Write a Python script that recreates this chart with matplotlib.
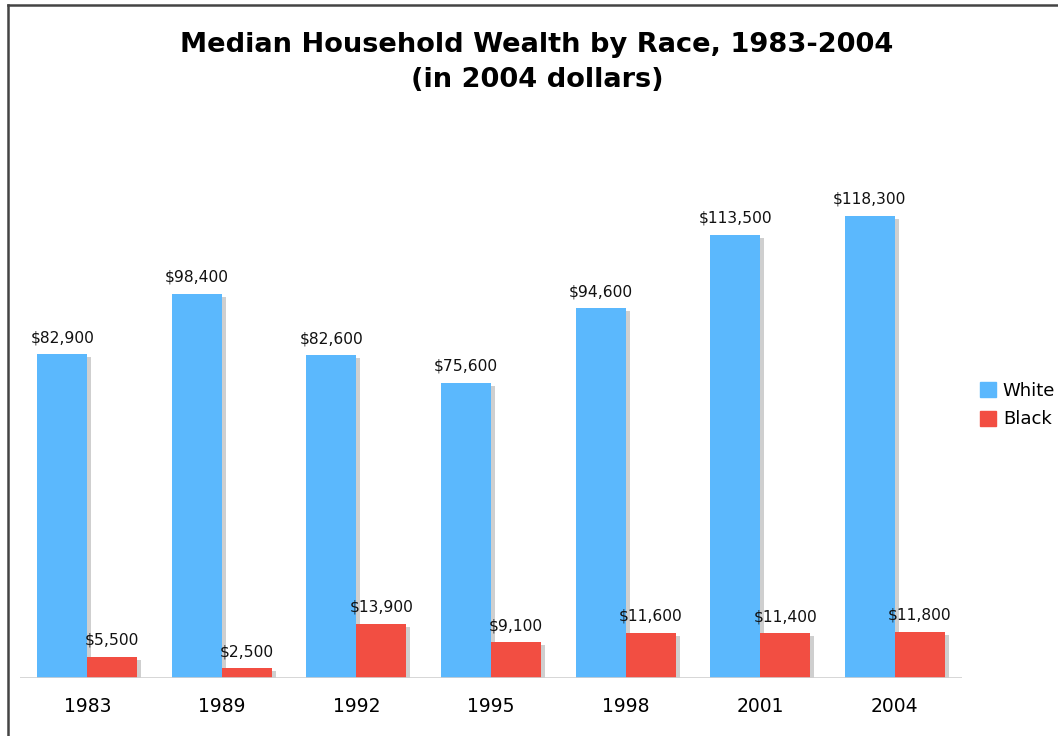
import numpy as np
import matplotlib
matplotlib.use("Agg")
import matplotlib.pyplot as plt
from matplotlib.lines import Line2D
from matplotlib.patches import Patch

plt.rcParams["font.family"] = ["DejaVu Sans"]

years = ["1983", "1989", "1992", "1995", "1998", "2001", "2004"]
white = [82900, 98400, 82600, 75600, 94600, 113500, 118300]
black = [5500, 2500, 13900, 9100, 11600, 11400, 11800]

c_white = "#5bb8fd"
c_black = "#f24e42"
c_shadow = "#cfcfcf"

W, H = 1058, 736
fig = plt.figure(figsize=(W / 100, H / 100), dpi=100)
ax = fig.add_axes([20 / W, 58 / H, 942 / W, (678 - 131) / H])

x = np.arange(len(years))
bw = 0.372
px = 1.0 / 134.6          # one pixel in x data units
ymax = 140000
py = ymax / (678 - 131)   # one pixel in y data units

for off, vals, col in [(-bw / 2, white, c_white), (bw / 2, black, c_black)]:
    # drop shadow on the right
    ax.bar(x + off + 4 * px, [v - 3 * py for v in vals], bw, color=c_shadow, zorder=1)
    ax.bar(x + off, vals, bw, color=col, zorder=2)
    for xi, v in zip(x + off, vals):
        ax.text(xi, v + 9 * py, "${:,}".format(v), ha="center", va="bottom",
                fontsize=11.2, color="#111111", zorder=3)

ax.set_xlim(-0.5, 6.5)
ax.set_ylim(0, ymax)
ax.axhline(0, color="#d0d0d0", lw=1.2, zorder=4)
for s in ax.spines.values():
    s.set_visible(False)
ax.set_yticks([])
ax.set_xticks(x)
ax.set_xticklabels(years, fontsize=13.5)
ax.tick_params(axis="x", length=0, pad=14)

fig.text(537 / W, 1 - 45 / H, "Median Household Wealth by Race, 1983-2004",
         ha="center", va="center", fontsize=19.6, fontweight="bold")
fig.text(537 / W, 1 - 80 / H, "(in 2004 dollars)",
         ha="center", va="center", fontsize=19.6, fontweight="bold")

handles = [Patch(color=c_white, label="White"), Patch(color=c_black, label="Black")]
fig.legend(handles=handles, loc="center left", bbox_to_anchor=(973 / W, 1 - 405 / H),
           frameon=False, fontsize=13, handlelength=0.9, handleheight=0.9,
           handletextpad=0.35, labelspacing=0.6, borderaxespad=0)

# outer frame (left and top edges)
fig.add_artist(Line2D([8 / W, 8 / W], [0, 1 - 5 / H], color="#444444", lw=1.8))
fig.add_artist(Line2D([8 / W, 1], [1 - 5 / H, 1 - 5 / H], color="#444444", lw=1.8))

fig.savefig("out.png", dpi=100)
